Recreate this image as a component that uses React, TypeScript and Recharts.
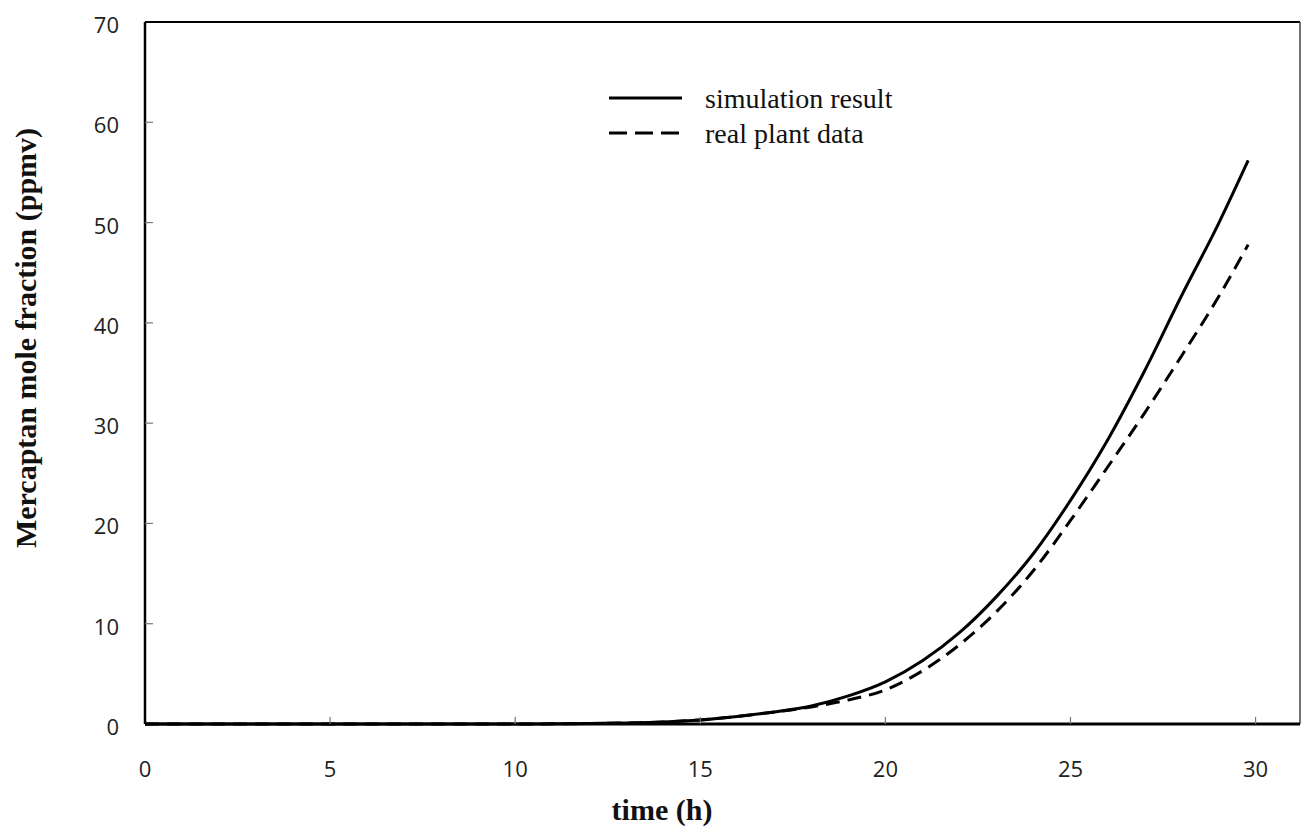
import React from 'react';
import { LineChart, Line, XAxis, YAxis, ReferenceLine } from 'recharts';

// time (h)
const TIMES = [0, 2, 4, 6, 8, 10, 12, 13, 14, 15, 16, 17, 18, 19, 20, 21, 22, 23, 24, 25, 26, 27, 28, 29, 29.8];
// Mercaptan mole fraction (ppmv)
const SIMULATION = [0, 0, 0, 0, 0, 0, 0.05, 0.1, 0.2, 0.4, 0.75, 1.2, 1.8, 2.8, 4.2, 6.3, 9.1, 12.7, 17.0, 22.3, 28.3, 35.2, 42.7, 49.9, 56.2];
const PLANT = [0, 0, 0, 0, 0, 0, 0.05, 0.1, 0.2, 0.4, 0.75, 1.2, 1.7, 2.4, 3.4, 5.3, 7.9, 11.2, 15.3, 20.3, 25.6, 31.0, 36.7, 42.6, 47.8];

const X_TICKS = [0, 5, 10, 15, 20, 25, 30];
const Y_TICKS = [0, 10, 20, 30, 40, 50, 60, 70];
const X_MAX = 31.2;
const Y_MAX = 70;

const SERIES_NAMES = ['simulation result', 'real plant data'];

const data = TIMES.map((t, i) => ({ t, sim: SIMULATION[i], plant: PLANT[i] }));

const TICK_FONT = '"Open Sans", "Liberation Sans", sans-serif';
const SERIF = '"Liberation Serif", "Times New Roman", serif';

const XTick = (props: any) => {
    const { x, y, payload } = props;
    return (
        <g>
            {payload.value !== 0 && <line x1={x} x2={x} y1={y} y2={y - 7} stroke="#777" strokeWidth={1.2} />}
            <text x={x} y={y + 44} textAnchor="middle" dominantBaseline="central" fontFamily={TICK_FONT} fontSize={22} fill="#222">
                {payload.value}
            </text>
        </g>
    );
};

const YTick = (props: any) => {
    const { x, y, payload } = props;
    return (
        <g>
            {payload.value !== 0 && payload.value !== Y_MAX && <line x1={x} x2={x + 8} y1={y} y2={y} stroke="#777" strokeWidth={1.2} />}
            <text x={x - 26} y={y + 2} textAnchor="end" dominantBaseline="central" fontFamily={TICK_FONT} fontSize={22} fill="#222">
                {payload.value}
            </text>
        </g>
    );
};

// legend drawn as an overlay so it takes no room from the plot
const LegendBox = () => (
    <svg width={320} height={80} style={{ position: 'absolute', left: 605, top: 78 }}>
        <line x1={4} x2={77} y1={20} y2={20} stroke="#000" strokeWidth={3} />
        <line x1={4} x2={77} y1={55} y2={55} stroke="#000" strokeWidth={3} strokeDasharray="18 8" />
        <text x={100} y={20} dominantBaseline="central" fontFamily={SERIF} fontSize={28} fill="#111">{SERIES_NAMES[0]}</text>
        <text x={100} y={55} dominantBaseline="central" fontFamily={SERIF} fontSize={28} fill="#111">{SERIES_NAMES[1]}</text>
    </svg>
);

const App: React.FC = () => {
    return (
        <div style={{ position: 'absolute', left: 0, top: 0, width: 1302, height: 828, background: '#fff' }}>
            <LineChart width={1302} height={828} data={data} margin={{ top: 22, right: 2, left: 0, bottom: 0 }}>
                <XAxis
                    dataKey="t"
                    type="number"
                    domain={[0, X_MAX]}
                    ticks={X_TICKS}
                    height={104}
                    tickSize={0}
                    tickMargin={0}
                    tick={<XTick />}
                    axisLine={{ stroke: '#000', strokeWidth: 3 }}
                    tickLine={false}
                    label={() => (
                        <text x={662} y={820} textAnchor="middle" fontFamily={SERIF} fontWeight="bold" fontSize={30} fill="#111">
                            time (h)
                        </text>
                    )}
                />
                <YAxis
                    type="number"
                    domain={[0, Y_MAX]}
                    ticks={Y_TICKS}
                    width={145}
                    tickSize={0}
                    tickMargin={0}
                    tick={<YTick />}
                    axisLine={{ stroke: '#000', strokeWidth: 2.5 }}
                    tickLine={false}
                    label={() => (
                        <text x={36} y={338} transform="rotate(-90, 36, 338)" textAnchor="middle" fontFamily={SERIF} fontWeight="bold" fontSize={30} fill="#111">
                            Mercaptan mole fraction (ppmv)
                        </text>
                    )}
                />
                {/* frame top and right */}
                <ReferenceLine y={Y_MAX} stroke="#000" strokeWidth={2} />
                <ReferenceLine x={X_MAX} stroke="#444" strokeWidth={1.5} />
                <Line dataKey="sim" name={SERIES_NAMES[0]} type="monotone" stroke="#000" strokeWidth={3} dot={false} isAnimationActive={false} />
                <Line dataKey="plant" name={SERIES_NAMES[1]} type="monotone" stroke="#000" strokeWidth={3} strokeDasharray="14 8" dot={false} isAnimationActive={false} />
            </LineChart>
            <LegendBox />
        </div>
    );
};

export default App;
